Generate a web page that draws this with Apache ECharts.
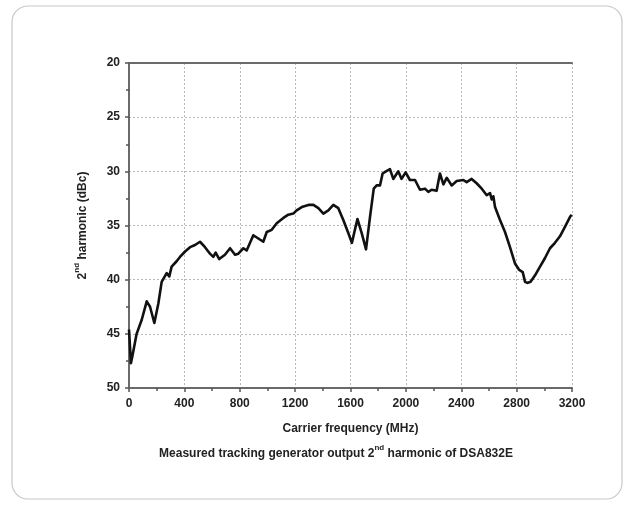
<!DOCTYPE html>
<html>
<head>
<meta charset="utf-8">
<script src="https://cdn.jsdelivr.net/npm/echarts@6/dist/echarts.min.js"></script>
<style>
html,body{margin:0;padding:0;background:#fff;}
#c{width:634px;height:511px;}
</style>
</head>
<body>
<div id="c"></div>
<script>
// Carrier frequency (MHz)
var freqMHz = [0,14,24,55,92,128,152,183,212,236,272,291,308,344,368,405,441,477,513,549,585,609,626,652,693,730,766,790,826,850,898,934,970,995,1031,1067,1115,1151,1187,1211,1248,1296,1332,1368,1404,1440,1476,1512,1548,1584,1610,1650,1681,1712,1741,1768,1789,1813,1832,1856,1885,1909,1945,1969,1998,2029,2066,2102,2138,2162,2186,2222,2246,2271,2295,2331,2367,2415,2439,2475,2511,2548,2584,2608,2620,2632,2644,2680,2716,2752,2788,2819,2844,2861,2877,2901,2933,2969,3005,3041,3077,3113,3150,3186,3198];
// 2nd harmonic (dBc)
var harmonicDbc = [44.6,47.7,47.1,45.0,43.7,42.0,42.5,44.0,42.2,40.2,39.4,39.7,38.8,38.3,37.9,37.4,37.0,36.8,36.5,37.0,37.6,37.9,37.5,38.1,37.7,37.1,37.7,37.6,37.1,37.3,35.9,36.2,36.5,35.6,35.4,34.8,34.3,34.0,33.9,33.6,33.3,33.1,33.1,33.4,33.9,33.6,33.1,33.4,34.5,35.7,36.6,34.4,35.7,37.2,34.2,31.6,31.3,31.3,30.2,30.0,29.8,30.7,30.0,30.7,30.1,30.8,30.8,31.7,31.6,31.9,31.7,31.8,30.2,31.2,30.6,31.3,30.9,30.8,31.0,30.7,31.1,31.6,32.2,32.0,32.6,32.3,33.3,34.5,35.6,37.0,38.5,39.1,39.3,40.2,40.3,40.2,39.6,38.8,38.0,37.1,36.6,36.0,35.1,34.2,34.0];
var xTicks = {min: 0, max: 3200, interval: 400};
var yTicks = {min: 20, max: 50, interval: 5};
var xName = 'Carrier frequency (MHz)';
var yNameParts = ['2', 'nd', ' harmonic (dBc)'];
var captionParts = ['Measured tracking generator output 2', 'nd', ' harmonic of DSA832E'];

var pts = freqMHz.map(function (f, i) { return [f, harmonicDbc[i]]; });
var FONT = '"Liberation Sans", Arial, sans-serif';
var AX = '#6a6a6a';
var chart = echarts.init(document.getElementById('c'), null, {renderer: 'canvas'});
var gridLine = {show: true, lineStyle: {color: '#b8b8b8', type: [2, 2], width: 1}};
var plainFmt = function (v) { return String(v); };
var boxAxis = {
  axisLine: {show: true, lineStyle: {color: AX, width: 2}},
  axisTick: {show: false}, axisLabel: {show: false}, splitLine: {show: false}
};
chart.setOption({
  backgroundColor: '#fff',
  animation: false,
  grid: {left: 129, right: 62, top: 63, bottom: 123},
  xAxis: [{
    type: 'value', min: xTicks.min, max: xTicks.max, interval: xTicks.interval,
    name: xName, nameLocation: 'middle', nameGap: 35,
    nameTextStyle: {fontFamily: FONT, fontWeight: 'bold', fontSize: 12, color: '#222'},
    axisLine: {show: true, lineStyle: {color: AX, width: 2}},
    axisTick: {show: true, length: 4, lineStyle: {color: '#555', width: 1.5}},
    minorTick: {show: true, splitNumber: 2, length: 3, lineStyle: {color: '#555', width: 1.5}},
    axisLabel: {fontFamily: FONT, fontWeight: 'bold', fontSize: 12, color: '#222', margin: 10, formatter: plainFmt},
    splitLine: gridLine
  }, Object.assign({type: 'value', position: 'top', min: xTicks.min, max: xTicks.max}, boxAxis)],
  yAxis: [{
    type: 'value', inverse: true, min: yTicks.min, max: yTicks.max, interval: yTicks.interval,
    name: '{n|' + yNameParts[0] + '}{s|' + yNameParts[1] + '}{n|' + yNameParts[2] + '}',
    nameLocation: 'middle', nameGap: 40, nameRotate: 90,
    nameTextStyle: {
      fontFamily: FONT, fontWeight: 'bold', fontSize: 12, color: '#222',
      rich: {
        n: {fontFamily: FONT, fontWeight: 'bold', fontSize: 12, color: '#222', lineHeight: 16, verticalAlign: 'bottom'},
        s: {fontFamily: FONT, fontWeight: 'bold', fontSize: 8, color: '#222', lineHeight: 16, verticalAlign: 'top'}
      }
    },
    axisLine: {show: true, lineStyle: {color: AX, width: 2}},
    axisTick: {show: true, length: 4, lineStyle: {color: '#555', width: 1.5}},
    minorTick: {show: true, splitNumber: 2, length: 3, lineStyle: {color: '#555', width: 1.5}},
    axisLabel: {fontFamily: FONT, fontWeight: 'bold', fontSize: 12, color: '#222', margin: 9, formatter: plainFmt},
    splitLine: gridLine
  }, Object.assign({type: 'value', position: 'right', inverse: true, min: yTicks.min, max: yTicks.max}, boxAxis)],
  graphic: [
    {type: 'rect', z: -10, shape: {x: 12, y: 6, width: 610, height: 493, r: 16}, style: {fill: '#fff', stroke: '#c8c8c8', lineWidth: 1.2}},
    {type: 'text', x: 336, y: 452, style: {
      text: '{n|' + captionParts[0] + '}{s|' + captionParts[1] + '}{n|' + captionParts[2] + '}',
      align: 'center', verticalAlign: 'middle',
      rich: {
        n: {fontFamily: FONT, fontWeight: 'bold', fontSize: 12, fill: '#222', lineHeight: 16, verticalAlign: 'bottom'},
        s: {fontFamily: FONT, fontWeight: 'bold', fontSize: 8, fill: '#222', lineHeight: 16, verticalAlign: 'top'}
      }
    }}
  ],
  series: [{
    type: 'line', data: pts, showSymbol: false, symbol: 'none', xAxisIndex: 0, yAxisIndex: 0,
    lineStyle: {color: '#111', width: 2.6, join: 'round'}
  }]
});
</script>
</body>
</html>
